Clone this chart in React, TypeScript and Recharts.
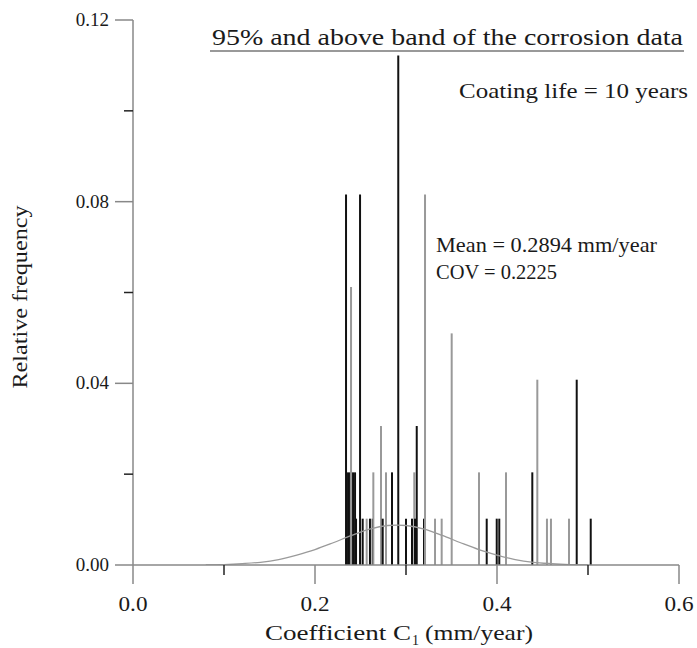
import React from 'react';
import { ComposedChart, Line, XAxis, YAxis, ReferenceLine } from 'recharts';

// bar positions (mm/year), relative frequency and tone
const barX = [
  0.2341, 0.2363, 0.2385, 0.2396, 0.2418, 0.244, 0.2451, 0.2495, 0.2524, 0.2568,
  0.2604, 0.2634, 0.2641, 0.2725, 0.2744, 0.278, 0.2846, 0.2915, 0.3, 0.3066,
  0.3091, 0.3099, 0.3118, 0.3198, 0.3209, 0.3319, 0.3392, 0.3502, 0.3802, 0.3887,
  0.3997, 0.4025, 0.4099, 0.4388, 0.4443, 0.4549, 0.4593, 0.4791, 0.4876, 0.503,
];
const barH = [
  0.0816, 0.0204, 0.0204, 0.0612, 0.0204, 0.0204, 0.0102, 0.0816, 0.0102, 0.0102,
  0.0102, 0.0102, 0.0204, 0.0306, 0.0102, 0.0204, 0.0204, 0.1122, 0.0102, 0.0102,
  0.0204, 0.0102, 0.0306, 0.0102, 0.0816, 0.0102, 0.0102, 0.051, 0.0204, 0.0102,
  0.0102, 0.0102, 0.0204, 0.0204, 0.0408, 0.0102, 0.0102, 0.0102, 0.0408, 0.0102,
];
const barTone = [
  'k', 'k', 'k', 'g', 'k', 'k', 'k', 'k', 'k', 'g',
  'k', 'k', 'g', 'g', 'k', 'g', 'k', 'k', 'k', 'k',
  'g', 'k', 'k', 'k', 'g', 'g', 'g', 'g', 'g', 'k',
  'k', 'k', 'g', 'k', 'g', 'g', 'g', 'g', 'k', 'k',
];

// fitted normal curve
const curveX = [0.08, 0.1, 0.12, 0.14, 0.16, 0.18, 0.2, 0.22, 0.24, 0.26, 0.28, 0.29, 0.3, 0.32, 0.34, 0.36, 0.38, 0.4, 0.42, 0.44, 0.46, 0.48, 0.5];
const curveY = [0, 0.0001, 0.0003, 0.0006, 0.0012, 0.0022, 0.0034, 0.0049, 0.0065, 0.0079, 0.0087, 0.0088, 0.0087, 0.0079, 0.0065, 0.0049, 0.0034, 0.0022, 0.0012, 0.0006, 0.0003, 0.0001, 0];

const xTicks = [0, 0.1, 0.2, 0.3, 0.4, 0.5, 0.6];
const yTicks = [0, 0.02, 0.04, 0.06, 0.08, 0.1, 0.12];

const FONT = '"Liberation Serif", "Times New Roman", serif';
const AXIS = '#888';
const INK = '#1a1a1a';

const curveData = curveX.map((x, i) => ({ x, y: curveY[i] }));

const XTick = (props: any) => {
  const { x, y, payload, index } = props;
  const major = index % 2 === 0;
  return (
    <g>
      <line x1={x} x2={x} y1={y} y2={y + (major ? 19 : 10)} stroke={major ? AXIS : '#222'} strokeWidth={1.5} />
      {major && (
        <text x={x} y={y + 46} textAnchor="middle" fontFamily={FONT} fontSize={20} textLength={29} lengthAdjust="spacingAndGlyphs" fill={INK}>
          {payload.value.toFixed(1)}
        </text>
      )}
    </g>
  );
};

const YTick = (props: any) => {
  const { x, y, payload, index } = props;
  const major = index % 2 === 0;
  return (
    <g>
      <line x1={x} x2={x - (major ? 18 : 9)} y1={y} y2={y} stroke={major ? AXIS : '#222'} strokeWidth={1.5} />
      {major && (
        <text x={x - 24} y={y + 6} textAnchor="end" fontFamily={FONT} fontSize={19} fill={INK}>
          {payload.value.toFixed(2)}
        </text>
      )}
    </g>
  );
};

const Txt = (p: any) => (
  <text fontFamily={FONT} fill={INK} lengthAdjust="spacingAndGlyphs" {...p} />
);

export default function App() {
  return (
    <div style={{ position: 'absolute', left: 0, top: 0, width: 697, height: 648, background: '#fff' }}>
      <ComposedChart width={697} height={648} data={curveData} margin={{ top: 20, right: 18, left: 0, bottom: 0 }}>
        <XAxis
          dataKey="x"
          type="number"
          domain={[0, 0.6]}
          ticks={xTicks}
          interval={0}
          height={83}
          tickSize={0}
          tickMargin={0}
          tickLine={false}
          tick={<XTick />}
          stroke={AXIS}
          strokeWidth={1.5}
          allowDataOverflow
        />
        <YAxis
          type="number"
          domain={[0, 0.12]}
          ticks={yTicks}
          interval={0}
          width={133}
          tickSize={0}
          tickMargin={0}
          tickLine={false}
          tick={<YTick />}
          stroke={AXIS}
          strokeWidth={1.5}
          allowDataOverflow
        />
        {barX.map((bx, i) => (
          <ReferenceLine
            key={i}
            segment={[{ x: bx, y: 0 }, { x: bx, y: barH[i] }]}
            stroke={barTone[i] === 'k' ? '#111' : '#999'}
            strokeWidth={2}
            ifOverflow="visible"
          />
        ))}
        <Line
          dataKey="y"
          type="monotone"
          stroke="#9a9a9a"
          strokeWidth={1.3}
          dot={false}
          isAnimationActive={false}
        />
      </ComposedChart>
      <svg width={697} height={648} style={{ position: 'absolute', left: 0, top: 0, pointerEvents: 'none' }}>
        <Txt x={212} y={45} fontSize={23} textLength={471}>95% and above band of the corrosion data</Txt>
        <line x1={210} x2={684} y1={51} y2={51} stroke="#777" strokeWidth={1.5} />
        <Txt x={459} y={98} fontSize={21} textLength={229}>Coating life = 10 years</Txt>
        <Txt x={436} y={252} fontSize={21} textLength={221}>Mean = 0.2894 mm/year</Txt>
        <Txt x={436} y={279} fontSize={21} textLength={121}>COV = 0.2225</Txt>
        <Txt x={265} y={640} fontSize={21} textLength={146}>Coefficient C</Txt>
        <Txt x={412} y={645} fontSize={14}>1</Txt>
        <Txt x={425} y={640} fontSize={21} textLength={108}>(mm/year)</Txt>
        <Txt x={27} y={297} textAnchor="middle" fontSize={22} textLength={183} transform="rotate(-90 27 297)">Relative frequency</Txt>
      </svg>
    </div>
  );
}
